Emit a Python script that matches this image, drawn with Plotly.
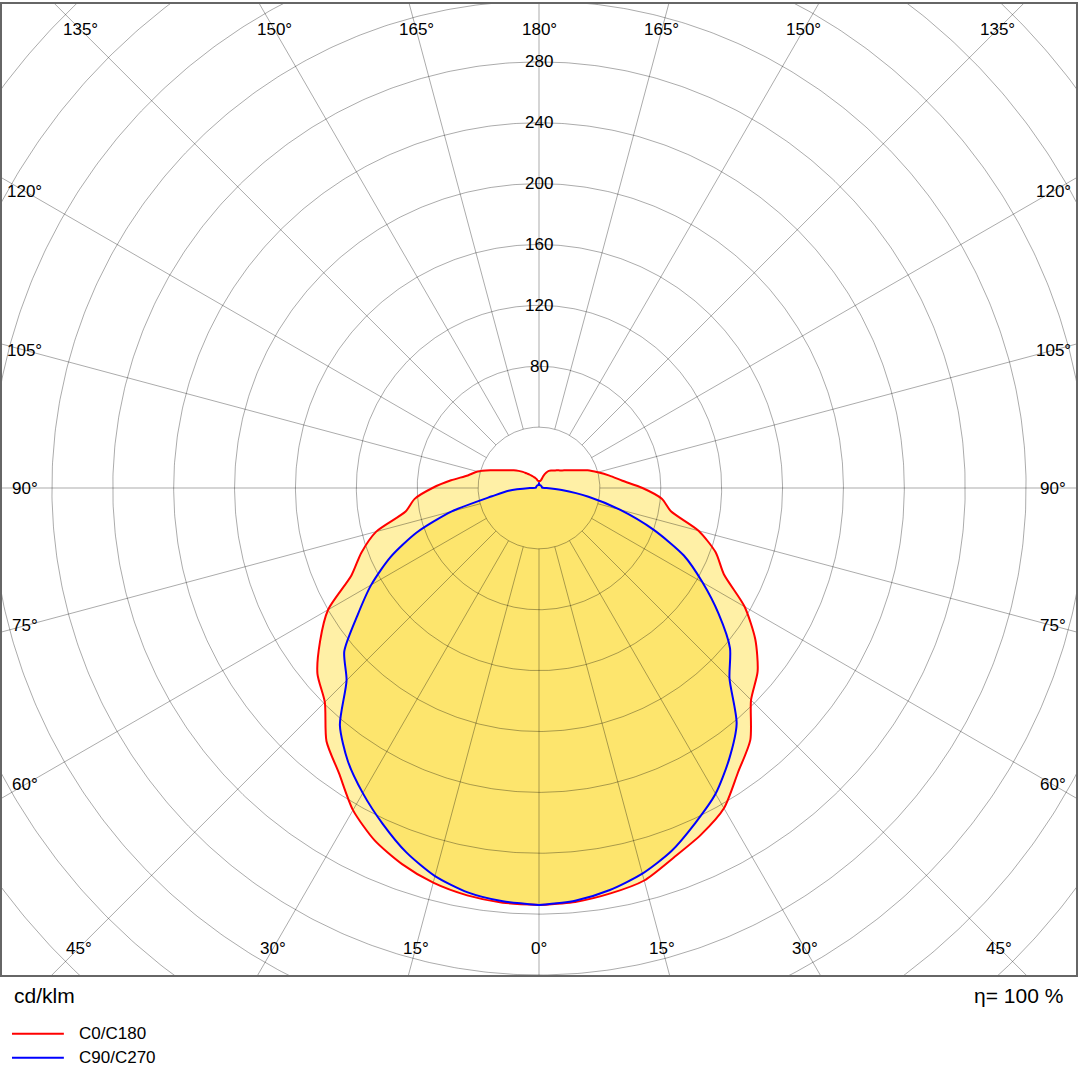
import numpy as np
import plotly.graph_objects as go

# luminous intensity (cd/klm) vs gamma angle, 5 deg steps
gamma = list(range(0, 185, 5))
c0 = [274, 273, 270.5, 267, 258.5, 251.5, 243, 228, 216, 197, 187.5, 173.5, 156, 134,
      123.5, 108.5, 88, 81, 68, 55, 47, 40, 34, 27.5, 23.2, 20.2, 18, 16.4, 15, 14,
      13, 11, 8.5, 5.5, 4.6, 4.6, 4.6]
c180 = [274, 273.5, 271.8, 268.5, 263, 255.5, 244.4, 229, 217.2, 199, 190, 175.6, 160, 136,
        124.2, 110.7, 89, 82, 70, 58, 47.5, 41.8, 34, 27.5, 23.2, 20.2, 17.5, 15, 12.5, 10.8,
        9.2, 8, 7, 6, 5, 4.6, 4.6]
c90 = [274, 272.2, 268.2, 262.3, 254, 242.9, 232, 217.7, 202, 177, 163.8, 144, 124, 105,
       80, 55, 33, 15, 5, 2, 2, 2, 2, 2, 2, 2, 2, 2, 2, 2,
       2, 2, 2, 2, 2, 2, 3.5]
c270 = [274, 272.6, 269.8, 264, 254.8, 243.3, 231.5, 219, 203.5, 178.8, 167, 145.5, 127.3, 107.8,
        85.5, 59.3, 31.4, 20, 6, 2, 2, 2, 2, 2, 2, 2, 2, 2, 2, 2,
        2, 2, 2, 2, 2, 2, 3.5]

ring_radii = list(range(40, 520, 40))
ring_labels = [80, 120, 160, 200, 240, 280]
spoke_angles = list(range(0, 360, 15))
angle_labels = list(range(0, 195, 15))

names = ["C0/C180", "C90/C270"]
line_colors = ["#ff0000", "#0000ff"]
fill_colors = ["#fff0a6", "#fde56d"]

PX = 1.525  # pixels per cd/klm
FONT = "Liberation Sans, Arial, sans-serif"


def outline(left, right):
    g = np.radians(gamma)
    rl = np.array(left)
    rr = np.array(right)
    x = np.concatenate([-rl[::-1] * np.sin(g[::-1]), rr * np.sin(g)])
    y = np.concatenate([-rl[::-1] * np.cos(g[::-1]), -rr * np.cos(g)])
    return x, y


curves = [outline(c180, c0), outline(c270, c90)]

fig = go.Figure()

# fills
for (x, y), fc in zip(curves, fill_colors):
    fig.add_trace(go.Scatter(x=x, y=y, mode="lines", fill="toself", fillcolor=fc,
                             line=dict(width=0, shape="spline", smoothing=0.7),
                             hoverinfo="skip", showlegend=False))

# polar grid
t = np.linspace(0, 2 * np.pi, 721)
gx, gy = [], []
for r in ring_radii:
    gx += list(r * np.sin(t)) + [None]
    gy += list(r * np.cos(t)) + [None]
for a in spoke_angles:
    ar = np.radians(a)
    gx += [40 * np.sin(ar), 800 * np.sin(ar), None]
    gy += [-40 * np.cos(ar), -800 * np.cos(ar), None]
fig.add_trace(go.Scatter(x=gx, y=gy, mode="lines", line=dict(color="rgba(0,0,0,0.33)", width=1),
                         hoverinfo="skip", showlegend=False))

# curves
for (x, y), lc, nm in zip(curves, line_colors, names):
    fig.add_trace(go.Scatter(x=x, y=y, mode="lines",
                             line=dict(color=lc, width=2, shape="spline", smoothing=0.7),
                             name=nm, hoverinfo="skip", showlegend=False))

# axis ranges so that the centre sits at (540, 487) px
x_half = 538 / PX
y_top = 485 / PX
y_bot = -488 / PX

# radial labels
for r in ring_labels:
    fig.add_annotation(x=0, y=r, text=str(r), showarrow=False,
                       font=dict(family=FONT, size=17, color="#000"),
                       xanchor="center", yanchor="middle")

# angle labels along inset frame
W = 515 / PX
T = 459 / PX
B = 461 / PX
for a in angle_labels:
    sides = [1] if a in (0, 180) else [-1, 1]
    for s in sides:
        ar = np.radians(a)
        dx = s * np.sin(ar)
        dy = -np.cos(ar)
        cands = []
        if abs(dx) > 1e-9:
            cands.append(W / abs(dx))
        if dy > 1e-9:
            cands.append(T / dy)
        if dy < -1e-9:
            cands.append(B / -dy)
        k = min(cands)
        fig.add_annotation(x=k * dx, y=k * dy, text=f"{a}°", showarrow=False,
                           font=dict(family=FONT, size=17, color="#000"),
                           xanchor="center", yanchor="middle")

# bottom captions and legend
fig.add_annotation(xref="paper", yref="paper", x=0.0093, y=-0.0206, text="cd/klm",
                   showarrow=False, xanchor="left", yanchor="middle",
                   font=dict(family=FONT, size=21, color="#000"))
fig.add_annotation(xref="paper", yref="paper", x=0.9898, y=-0.0206, text="η= 100 %",
                   showarrow=False, xanchor="right", yanchor="middle",
                   font=dict(family=FONT, size=21, color="#000"))
for i, (nm, lc) in enumerate(zip(names, line_colors)):
    yy = -0.0606 - i * 0.0245
    fig.add_shape(type="line", xref="paper", yref="paper", x0=0.0093, x1=0.0576, y0=yy, y1=yy,
                  line=dict(color=lc, width=2))
    fig.add_annotation(xref="paper", yref="paper", x=0.0697, y=yy, text=nm, showarrow=False,
                       xanchor="left", yanchor="middle",
                       font=dict(family=FONT, size=17, color="#000"))

fig.update_layout(
    width=1080, height=1080,
    margin=dict(l=2, r=2, t=2, b=105),
    plot_bgcolor="white", paper_bgcolor="white",
    xaxis=dict(range=[-x_half, x_half], showgrid=False, zeroline=False, showticklabels=False,
               ticks="", showline=True, mirror=True, linecolor="#666", linewidth=1.5, fixedrange=True),
    yaxis=dict(range=[y_bot, y_top], showgrid=False, zeroline=False, showticklabels=False,
               ticks="", showline=True, mirror=True, linecolor="#666", linewidth=1.5, fixedrange=True),
    showlegend=False,
)

# drop the default body margin so the figure sits at the window origin
fig.write_html("out.html", config={"displayModeBar": False},
               post_script="document.body.style.margin='0';")
